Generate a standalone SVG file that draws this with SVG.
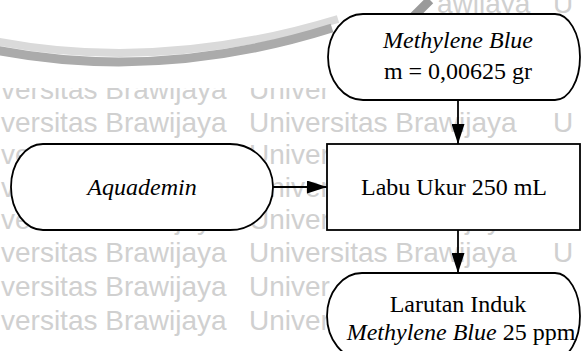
<svg xmlns="http://www.w3.org/2000/svg" width="581" height="351" viewBox="0 0 581 351">
  <style>
    .wm { font-family: "Liberation Sans", Arial, sans-serif; font-size: 28px; fill: #d0d0d0; }
    .node { fill: #ffffff; stroke: #000000; stroke-width: 1.8; }
    .lbl { font-family: "Liberation Serif", "Times New Roman", serif; font-size: 24px; fill: #000000; text-anchor: middle; }
    .it { font-style: italic; }
    .conn { stroke: #000000; stroke-width: 1.8; fill: none; }
  </style>
  <defs>
    <marker id="arrow" markerUnits="userSpaceOnUse" markerWidth="20" markerHeight="13" refX="20" refY="6.5" orient="auto">
      <path d="M0,0 L20,6.5 L0,13 Z" fill="#000000"/>
    </marker>
    <clipPath id="below-logo">
      <rect x="0" y="88" width="340" height="30"/>
    </clipPath>
  </defs>

  <rect width="581" height="351" fill="#ffffff"/>

  <!-- background watermark: logo stroke and repeated university name -->
  <g id="watermark">
    <path d="M -5 41 Q 160 73 338 19" fill="none" stroke="#dadada" stroke-width="8"/>
    <path d="M -5 50 Q 160 82 332 28" fill="none" stroke="#ababab" stroke-width="9"/>
    <path d="M 408 22 L 430 0" fill="none" stroke="#9a9a9a" stroke-width="9"/>

    <text class="wm" x="437" y="13">awijaya</text>
    <text class="wm" x="553" y="13">U</text>

    <g clip-path="url(#below-logo)">
      <text class="wm" x="1" y="99">versitas Brawijaya</text>
      <text class="wm" x="249" y="99">Univer</text>
    </g>

    <text class="wm" x="1" y="132">versitas Brawijaya</text>
    <text class="wm" x="249" y="132">Universitas Brawijaya</text>
    <text class="wm" x="553" y="132">U</text>

    <text class="wm" x="1" y="164">versitas Brawijaya</text>
    <text class="wm" x="249" y="164">Univer</text>

    <text class="wm" x="1" y="197">versi</text>
    <text class="wm" x="249" y="197">Univer</text>

    <text class="wm" x="1" y="229">versitas Brawijaya</text>
    <text class="wm" x="249" y="229">Universitas Brawijaya</text>

    <text class="wm" x="1" y="262">versitas Brawijaya</text>
    <text class="wm" x="249" y="262">Universitas Brawijaya</text>
    <text class="wm" x="553" y="262">U</text>

    <text class="wm" x="1" y="296">versitas Brawijaya</text>
    <text class="wm" x="249" y="296">Univer</text>

    <text class="wm" x="1" y="330">versitas Brawijaya</text>
    <text class="wm" x="249" y="330">Univer</text>
  </g>

  <!-- connectors -->
  <g id="connectors">
    <line class="conn" x1="458" y1="100" x2="458" y2="144" marker-end="url(#arrow)"/>
    <line class="conn" x1="273" y1="187" x2="327" y2="187" marker-end="url(#arrow)"/>
    <line class="conn" x1="458" y1="230" x2="458" y2="273" marker-end="url(#arrow)"/>
  </g>

  <!-- input: Methylene Blue -->
  <g id="node-methylene-blue">
    <path class="node" d="M 363 14 H 555 A 25 43 0 0 1 555 100 H 363 A 35 43 0 0 1 363 14 Z"/>
    <text class="lbl it" x="458" y="48">Methylene Blue</text>
    <text class="lbl" x="458" y="79">m = 0,00625 gr</text>
  </g>

  <!-- input: Aquademin -->
  <g id="node-aquademin">
    <path class="node" d="M 43 144 H 230 A 43 43 0 0 1 230 230 H 43 A 32 43 0 0 1 43 144 Z"/>
    <text class="lbl it" x="142" y="195">Aquademin</text>
  </g>

  <!-- process: volumetric flask -->
  <g id="node-labu-ukur">
    <rect class="node" x="327" y="144" width="253" height="86"/>
    <text class="lbl" x="454" y="195">Labu Ukur 250 mL</text>
  </g>

  <!-- output: stock solution -->
  <g id="node-larutan-induk">
    <path class="node" d="M 362 273 H 555 A 25 43 0 0 1 555 359 H 362 A 35 43 0 0 1 362 273 Z"/>
    <text class="lbl" x="458" y="312">Larutan Induk</text>
    <text class="lbl" x="461" y="340"><tspan class="it">Methylene Blue</tspan> 25 ppm</text>
  </g>
</svg>
